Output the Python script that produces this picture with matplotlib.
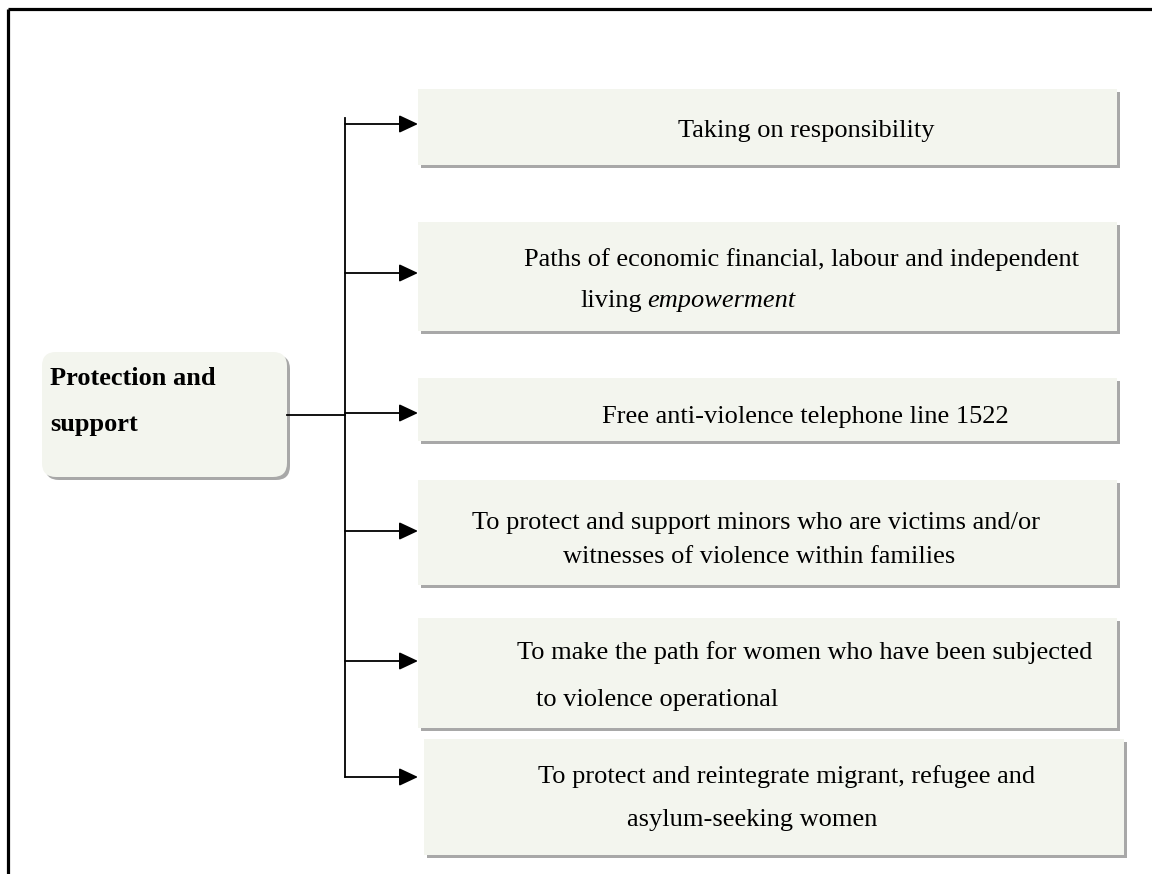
import matplotlib
matplotlib.use("Agg")
import matplotlib.pyplot as plt
from matplotlib.patches import Rectangle, FancyBboxPatch, FancyArrowPatch, ArrowStyle

# --- content ---
root_label = ["Protection and", "support"]
branch_labels = [
    ["Taking on responsibility"],
    ["Paths of economic financial, labour and independent", "living |empowerment"],
    ["Free anti-violence telephone line 1522"],
    ["To protect and support minors who are victims and/or", "witnesses of violence within families"],
    ["To make the path for women who have been subjected", "to violence operational"],
    ["To protect and reintegrate migrant, refugee and", "asylum-seeking women"],
]

# --- layout (pixel coords, y down) ---
box_rects = [  # left, top, right, bottom
    (418, 89, 1117, 165),
    (418, 222, 1117, 331),
    (418, 378, 1117, 441),
    (418, 480, 1117, 585),
    (418, 618, 1117, 728),
    (424, 739, 1124, 855),
]
arrow_y = [124, 273, 413, 531, 661, 777]
text_pos = [  # (center x, baseline) per line
    [(806, 137)],
    [(801, 266), (656, 307)],
    [(805, 423)],
    [(756, 529), (759, 563)],
    [(805, 659), (657, 706)],
    [(787, 783), (752, 826)],
]

FILL = "#f3f5ee"
SHADOW = "#a8a8a8"
FONT = "Liberation Serif"
FS = 19

fig = plt.figure(figsize=(11.52, 8.74), dpi=100)
ax = fig.add_axes([0, 0, 1, 1])
ax.set_xlim(0, 1152)
ax.set_ylim(874, 0)
ax.axis("off")

# open frame (top + left)
ax.plot([8, 1152], [9, 9], color="black", lw=2.3, solid_capstyle="butt")
ax.plot([8, 8], [9, 874], color="black", lw=2.3, solid_capstyle="butt")

# root box
ax.add_patch(FancyBboxPatch((45, 355), 245, 125, boxstyle="round,pad=0,rounding_size=14",
                            fc=SHADOW, ec="none", zorder=1))
ax.add_patch(FancyBboxPatch((42, 352), 245, 125, boxstyle="round,pad=0,rounding_size=14",
                            fc=FILL, ec="none", zorder=2))
ax.text(50, 385, root_label[0], family=FONT, weight="bold", fontsize=FS, va="baseline", zorder=3)
ax.text(50, 431, root_label[1], family=FONT, weight="bold", fontsize=FS, va="baseline", zorder=3)

# connectors
lw = 1.3
ax.plot([287, 345], [415, 415], color="black", lw=lw, zorder=3)
ax.plot([345, 345], [118, arrow_y[-1]], color="black", lw=lw, zorder=3)
style = ArrowStyle("-|>", head_length=11.5, head_width=5.4)
for y in arrow_y:
    ax.add_patch(FancyArrowPatch((345, y), (418, y), arrowstyle=style, mutation_scale=1,
                                 color="black", lw=lw, shrinkA=0, shrinkB=0, zorder=4))

renderer = fig.canvas.get_renderer()

# branch boxes
for (l, t, r, b), lines, pos in zip(box_rects, branch_labels, text_pos):
    ax.add_patch(Rectangle((l + 3, t + 3), r - l, b - t, fc=SHADOW, ec="none", zorder=1))
    ax.add_patch(Rectangle((l, t), r - l, b - t, fc=FILL, ec="none", zorder=2))
    for line, (cx, by) in zip(lines, pos):
        if "|" in line:
            a, it = line.split("|")
            t1 = ax.text(580, by, a.strip(), family=FONT, fontsize=FS, va="baseline",
                         ha="left", zorder=3)
            ext = t1.get_window_extent(renderer).transformed(ax.transData.inverted())
            ax.text(ext.x1 + 6, by, it, family=FONT, fontsize=FS, style="italic",
                    va="baseline", ha="left", zorder=3)
        else:
            txt = ax.text(cx, by, line, family=FONT, fontsize=FS, va="baseline",
                          ha="center", zorder=3)
            if lines[0].startswith("Free"):
                txt.set_clip_path(Rectangle((l, t), r - l, 425 - t, transform=ax.transData))

fig.savefig("out.png", dpi=100)
